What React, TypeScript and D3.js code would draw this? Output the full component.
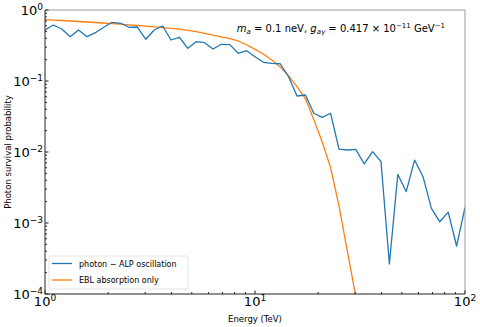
import React from "react";
import * as d3 from "d3";

// energy grid (TeV), log spaced
const energies = [
  1, 1.096, 1.202, 1.318, 1.445, 1.585, 1.738, 1.905, 2.089, 2.291,
  2.512, 2.754, 3.02, 3.311, 3.631, 3.981, 4.365, 4.786, 5.248, 5.754,
  6.31, 6.918, 7.586, 8.318, 9.12, 10, 10.96, 12.02, 13.18, 14.45,
  15.85, 17.38, 19.05, 20.89, 22.91, 25.12, 27.54, 30.2, 33.11, 36.31,
  39.81, 43.65, 47.86, 52.48, 57.54, 63.1, 69.18, 75.86, 83.18, 91.2, 100,
];

// photon - ALP oscillation
const alpProb = [
  0.523, 0.615, 0.54, 0.421, 0.523, 0.421, 0.479, 0.571, 0.671, 0.65,
  0.571, 0.576, 0.387, 0.523, 0.595, 0.378, 0.413, 0.289, 0.358, 0.346,
  0.282, 0.329, 0.325, 0.2455, 0.267, 0.22, 0.1835, 0.1776, 0.175, 0.115,
  0.0615, 0.0635, 0.0351, 0.0308, 0.0351, 0.011, 0.01067, 0.0109, 0.00678, 0.0101,
  0.0073, 0.000265, 0.00485, 0.00276, 0.0077, 0.00449, 0.00161, 0.00104, 0.00142, 0.000474,
  0.00166,
];

// EBL absorption only
const eblProb = [
  0.73, 0.721, 0.711, 0.7, 0.689, 0.678, 0.667, 0.656, 0.643, 0.631,
  0.619, 0.605, 0.591, 0.578, 0.565, 0.552, 0.537, 0.518, 0.495, 0.47,
  0.442, 0.419, 0.394, 0.366, 0.324, 0.279, 0.24, 0.198, 0.158, 0.118,
  0.0832, 0.0562, 0.0288, 0.0138, 0.00603, 0.00174, 0.000398, 0.0000912, 0.00002,
];

const xTicks = [1, 10, 100];
const xTickExp = ["0", "1", "2"];
const yTicks = [1e-4, 1e-3, 1e-2, 1e-1, 1];
const yTickExp = ["\u22124", "\u22123", "\u22122", "\u22121", "0"];

const W = 480;
const H = 327;
const m = { top: 10, right: 15, bottom: 33, left: 45 };
const font = "'DejaVu Sans', sans-serif";

const App = () => {
  const x = d3.scaleLog().domain([1, 100]).range([m.left, W - m.right]);
  const y = d3.scaleLog().domain([1e-4, 1]).range([H - m.bottom, m.top]);

  const line = d3
    .line<[number, number]>()
    .x((d) => x(d[0]))
    .y((d) => y(Math.max(d[1], 1e-6)));

  const alpPath = line(energies.map((e, i) => [e, alpProb[i]]));
  const eblPath = line(eblProb.map((p, i) => [energies[i], p]));

  // minor ticks
  const xMinor: number[] = [];
  [1, 10].forEach((dec) => {
    for (let k = 2; k <= 9; k++) xMinor.push(dec * k);
  });
  const yMinor: number[] = [];
  [1e-4, 1e-3, 1e-2, 1e-1].forEach((dec) => {
    for (let k = 2; k <= 9; k++) yMinor.push(dec * k);
  });

  const x0 = m.left;
  const x1 = W - m.right;
  const y0 = m.top;
  const y1 = H - m.bottom;

  return (
    <svg
      width={W}
      height={H}
      style={{ position: "absolute", left: 0, top: 0, background: "#fff" }}
      fontFamily={font}
    >
      <defs>
        <clipPath id="plot">
          <rect x={x0} y={y0} width={x1 - x0} height={y1 - y0} />
        </clipPath>
      </defs>

      <g clipPath="url(#plot)" fill="none" strokeWidth={1.3} strokeLinejoin="round">
        <path d={eblPath || ""} stroke="#ff7f0e" />
        <path d={alpPath || ""} stroke="#1f77b4" />
      </g>

      {/* spines */}
      <line x1={x0} x2={x1} y1={y0} y2={y0} stroke="#999" />
      <line x1={x1} x2={x1} y1={y0} y2={y1} stroke="#999" />
      <line x1={x0} x2={x0} y1={y0} y2={y1} stroke="#222" />
      <line x1={x0} x2={x1} y1={y1} y2={y1} stroke="#222" />

      {/* x ticks */}
      {xTicks.map((t) => (
        <line key={"xt" + t} x1={x(t)} x2={x(t)} y1={y1} y2={y1 - 3.5} stroke="#222" />
      ))}
      {xMinor.map((t) => (
        <line key={"xm" + t} x1={x(t)} x2={x(t)} y1={y1} y2={y1 - 2} stroke="#222" />
      ))}
      {xTicks.map((t, i) => (
        <text key={"xl" + t} x={x(t)} y={y1 + 12} fontSize={13} textAnchor="middle" fill="#000">
          <tspan>10</tspan>
          <tspan dy={-5} fontSize={9}>{xTickExp[i]}</tspan>
        </text>
      ))}

      {/* y ticks */}
      {yTicks.map((t) => (
        <line key={"yt" + t} x1={x0} x2={x0 + 3.5} y1={y(t)} y2={y(t)} stroke="#222" />
      ))}
      {yMinor.map((t) => (
        <line key={"ym" + t} x1={x0} x2={x0 + 2} y1={y(t)} y2={y(t)} stroke="#222" />
      ))}
      {yTicks.map((t, i) => (
        <text key={"yl" + t} x={x0 - 2} y={y(t) + 4.5} fontSize={13} textAnchor="end" fill="#000">
          <tspan>10</tspan>
          <tspan dy={-5} fontSize={9}>{yTickExp[i]}</tspan>
        </text>
      ))}

      {/* axis labels */}
      <text x={(x0 + x1) / 2} y={322} fontSize={8.5} textAnchor="middle" fill="#000">
        Energy (TeV)
      </text>
      <text
        transform={`translate(11,${(y0 + y1) / 2}) rotate(-90)`}
        fontSize={8.5}
        textAnchor="middle"
        fill="#000"
      >
        Photon survival probability
      </text>

      {/* annotation */}
      <text x={445} y={32} fontSize={10} textAnchor="end" fill="#000">
        <tspan fontStyle="italic">m</tspan>
        <tspan dy={2} fontSize={7} fontStyle="italic">a</tspan>
        <tspan dy={-2}> = 0.1 neV, </tspan>
        <tspan fontStyle="italic">g</tspan>
        <tspan dy={2} fontSize={7} fontStyle="italic">a{"\u03b3"}</tspan>
        <tspan dy={-2}> = 0.417 × 10</tspan>
        <tspan dy={-4} fontSize={7}>{"\u221211"}</tspan>
        <tspan dy={4}> GeV</tspan>
        <tspan dy={-4} fontSize={7}>{"\u22121"}</tspan>
      </text>

      {/* legend */}
      <g>
        <rect x={49} y={256} width={139} height={33} rx={2} fill="#fff" fillOpacity={0.8} stroke="#ddd" strokeWidth={0.8} />
        <line x1={52} x2={72} y1={263.5} y2={263.5} stroke="#1f77b4" strokeWidth={1.3} />
        <text x={79} y={266.5} fontSize={8} fill="#000">photon {"\u2212"} ALP oscillation</text>
        <line x1={52} x2={72} y1={280} y2={280} stroke="#ff7f0e" strokeWidth={1.3} />
        <text x={79} y={283} fontSize={8} fill="#000">EBL absorption only</text>
      </g>
    </svg>
  );
};

export default App;
